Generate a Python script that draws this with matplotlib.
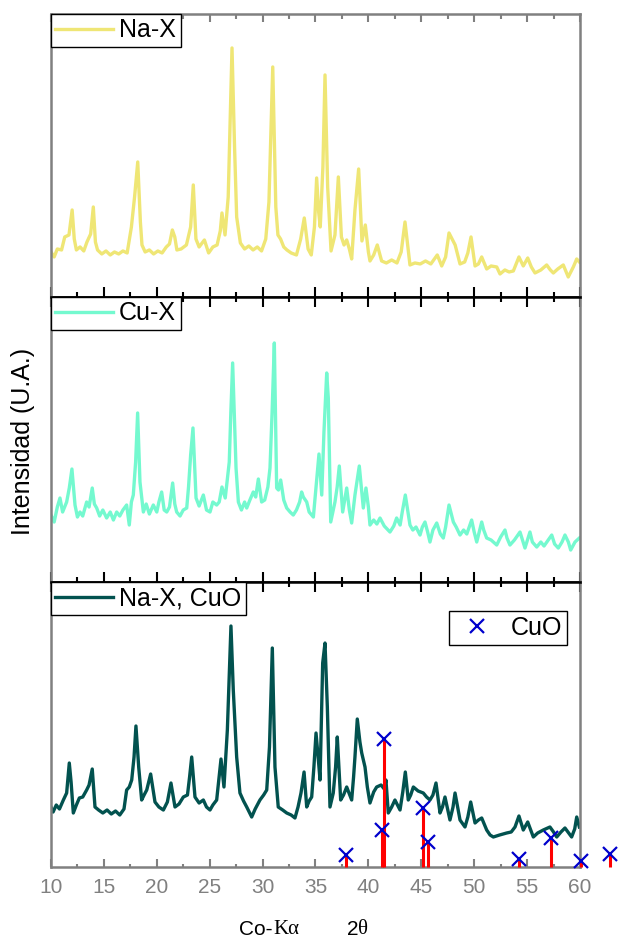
import matplotlib
matplotlib.use('Agg')
import matplotlib.pyplot as plt
from matplotlib.ticker import MultipleLocator

plt.rcParams['font.family'] = ['Liberation Sans', 'DejaVu Sans']

# --- Na-X (top panel), 2theta vs intensity (a.u.)
nax_tt = [10.0, 10.3, 10.6, 11.0, 11.3, 11.7, 12.0, 12.2, 12.4, 12.75, 13.1, 13.4, 13.75, 14.0, 14.2,
          14.4, 14.8, 15.2, 15.6, 16.0, 16.4, 16.8, 17.2, 17.6, 17.9, 18.2, 18.45, 18.6, 18.9, 19.3,
          19.7, 20.1, 20.5, 20.9, 21.2, 21.47, 21.7, 21.9, 22.3, 22.8, 23.2, 23.45, 23.7, 24.0, 24.5,
          24.9, 25.3, 25.7, 26.0, 26.16, 26.45, 26.75, 27.11, 27.35, 27.55, 27.9, 28.3, 28.7, 29.1,
          29.5, 29.9, 30.3, 30.6, 30.96, 31.25, 31.45, 31.7, 32.0, 32.3, 32.7, 33.2, 33.6, 33.94,
          34.3, 34.6, 34.9, 35.11, 35.3, 35.45, 35.7, 35.9, 36.15, 36.47, 36.84, 37.16, 37.45, 37.7,
          37.95, 38.2, 38.42, 38.73, 39.08, 39.39, 39.71, 40.0, 40.15, 40.5, 40.84, 41.25, 41.7,
          42.2, 42.7, 43.1, 43.46, 43.93, 44.4, 44.9, 45.4, 45.9, 46.51, 46.93, 47.3, 47.62, 47.96,
          48.2, 48.66, 49.1, 49.4, 49.7, 50.08, 50.4, 50.71, 51.18, 51.6, 52.13, 52.44, 52.9, 53.3,
          53.7, 54.23, 54.64, 55.06, 55.4, 55.75, 56.3, 56.85, 57.2, 57.48, 57.9, 58.42, 58.89,
          59.37, 59.69, 59.94]
nax_int = [45, 40, 48, 47, 60, 62, 87, 58, 47, 50, 46, 55, 63, 90, 55,
           47, 43, 46, 42, 45, 43, 46, 44, 70, 100, 135, 75, 52, 45, 47,
           43, 46, 44, 50, 53, 67, 60, 47, 48, 52, 70, 112, 58, 50, 57,
           44, 50, 52, 66, 84, 62, 100, 249, 150, 80, 54, 48, 51, 47,
           50, 46, 58, 95, 230, 90, 62, 58, 50, 47, 44, 42, 58, 79,
           48, 42, 70, 119, 85, 70, 130, 222, 110, 46, 62, 120, 60, 52,
           57, 48, 38, 87, 128, 56, 72, 45, 36, 42, 52, 36, 34,
           37, 34, 45, 75, 32, 34, 33, 36, 33, 42, 31, 40, 64, 57,
           52, 33, 35, 44, 60, 31, 33, 40, 28, 31, 30, 23, 27, 25,
           26, 40, 31, 39, 30, 24, 27, 32, 27, 24, 28, 32, 20,
           30, 38, 35]

# --- Cu-X (middle panel)
cux_tt = [10.0, 10.3, 10.6, 10.85, 11.1, 11.48, 11.73, 11.98, 12.27, 12.5, 12.74, 13.0, 13.37, 13.6,
          13.9, 14.1, 14.32, 14.6, 14.9, 15.26, 15.6, 15.9, 16.21, 16.5, 16.8, 17.15, 17.4, 17.6,
          17.78, 18.0, 18.19, 18.41, 18.73, 19.0, 19.3, 19.67, 20.0, 20.2, 20.46, 20.7, 20.94, 21.2,
          21.5, 21.7, 21.88, 22.2, 22.5, 22.83, 23.0, 23.2, 23.42, 23.71, 24.0, 24.4, 24.7, 25.03,
          25.3, 25.66, 25.9, 26.16, 26.47, 26.85, 27.0, 27.17, 27.35, 27.49, 27.71, 28.0, 28.3, 28.5,
          28.8, 29.12, 29.35, 29.6, 29.91, 30.2, 30.5, 30.7, 30.9, 31.11, 31.25, 31.33, 31.5, 31.71,
          32.0, 32.28, 32.6, 32.9, 33.2, 33.5, 33.69, 33.85, 34.17, 34.4, 34.8, 35.05, 35.33, 35.59,
          35.8, 36.06, 36.21, 36.44, 36.84, 37.05, 37.25, 37.57, 37.95, 38.2, 38.42, 38.73, 39.14,
          39.52, 39.77, 40.0, 40.15, 40.5, 40.8, 41.1, 41.5, 42.04, 42.4, 42.67, 43.0, 43.2, 43.49,
          43.93, 44.2, 44.5, 44.88, 45.1, 45.35, 45.6, 45.82, 46.1, 46.46, 46.8, 47.08, 47.3, 47.62,
          48.03, 48.3, 48.66, 49.0, 49.3, 49.76, 50.0, 50.24, 50.71, 50.9, 51.18, 51.6, 52.13, 52.5,
          52.91, 53.1, 53.38, 53.8, 54.33, 54.8, 55.27, 55.5, 55.91, 56.3, 56.6, 57.0, 57.33, 57.6,
          57.95, 58.3, 58.58, 58.9, 59.12, 59.53, 59.94]
cux_int = [67, 60, 75, 84, 70, 80, 94, 113, 77, 65, 70, 66, 80, 75,
           94, 78, 74, 66, 72, 64, 70, 62, 70, 66, 72, 77, 57, 80,
           87, 120, 169, 100, 70, 78, 68, 77, 70, 80, 90, 72, 70, 75,
           99, 78, 70, 66, 72, 74, 95, 127, 154, 84, 76, 87, 72, 70,
           80, 77, 80, 95, 84, 120, 170, 219, 160, 114, 80, 72, 80, 74,
           82, 90, 85, 103, 80, 82, 95, 114, 170, 239, 150, 94, 92, 102,
           82, 74, 70, 67, 72, 80, 90, 85, 80, 70, 65, 95, 128, 87,
           150, 209, 184, 60, 80, 95, 116, 70, 94, 72, 59, 87, 116,
           74, 94, 75, 57, 62, 58, 64, 56, 50, 56, 64, 57, 70, 87,
           57, 52, 55, 47, 55, 60, 50, 40, 52, 59, 48, 44, 55, 77,
           60, 55, 47, 52, 48, 62, 50, 40, 60, 52, 44, 42, 37, 45,
           52, 44, 37, 42, 50, 34, 50, 40, 35, 40, 36, 42, 47, 38,
           34, 40, 47, 40, 32, 40, 44]

# --- Na-X, CuO (bottom panel)
nacuo_tt = [10.0, 10.2, 10.5, 10.8, 11.17, 11.48, 11.73, 11.9, 12.11, 12.4, 12.68, 13.0, 13.37, 13.6,
            13.9, 14.16, 14.5, 14.9, 15.3, 15.7, 16.1, 16.5, 16.9, 17.15, 17.4, 17.63, 17.85, 18.03,
            18.29, 18.57, 18.8, 19.05, 19.42, 19.83, 20.2, 20.62, 21.0, 21.34, 21.72, 22.1, 22.51,
            22.9, 23.1, 23.3, 23.61, 24.0, 24.4, 24.7, 25.03, 25.3, 25.66, 26.07, 26.35, 26.67, 27.01,
            27.23, 27.55, 27.86, 28.2, 28.5, 28.97, 29.3, 29.75, 30.1, 30.39, 30.65, 30.92, 31.17,
            31.48, 31.9, 32.28, 32.7, 33.06, 33.35, 33.63, 33.92, 34.17, 34.4, 34.64, 34.85, 35.05,
            35.25, 35.43, 35.68, 35.9, 36.12, 36.37, 36.68, 36.9, 37.06, 37.38, 37.65, 37.95, 38.42,
            38.6, 38.73, 38.95, 39.2, 39.37, 39.68, 39.9, 40.15, 40.5, 40.78, 41.2, 41.5, 41.66, 41.88,
            42.2, 42.51, 42.99, 43.25, 43.49, 43.77, 44.0, 44.25, 44.7, 45.19, 45.5, 45.82, 46.1,
            46.39, 46.77, 47.0, 47.24, 47.71, 48.0, 48.19, 48.66, 49.13, 49.4, 49.67, 50.08, 50.4,
            50.71, 51.18, 51.5, 51.81, 52.4, 53.07, 53.5, 53.86, 54.23, 54.64, 55.06, 55.59, 56.0,
            56.53, 57.16, 57.5, 57.8, 58.2, 58.58, 59.21, 59.5, 59.69, 59.94]
nacuo_int = [60, 55, 62, 58, 67, 74, 104, 85, 54, 62, 69, 70, 77, 82,
             98, 60, 57, 54, 57, 53, 56, 52, 58, 77, 80, 87, 110, 141,
             100, 67, 72, 77, 93, 65, 60, 57, 65, 84, 60, 63, 70,
             72, 90, 110, 70, 64, 67, 60, 57, 62, 67, 108, 80, 137, 241,
             177, 110, 74, 66, 60, 50, 58, 67, 72, 77, 120, 219, 100,
             60, 57, 54, 52, 49, 60, 74, 95, 60, 66, 70, 100, 134,
             110, 87, 204, 224, 160, 60, 74, 100, 130, 67, 72, 80, 67,
             90, 110, 148, 125, 114, 100, 80, 64, 75, 80, 82, 78, 87, 54,
             60, 67, 57, 75, 95, 67, 72, 80, 76, 74, 70, 67, 72,
             84, 54, 60, 70, 47, 60, 74, 47, 40, 50, 65, 44, 47,
             49, 37, 32, 30, 32, 34, 35, 40, 51, 37, 45, 30, 34,
             37, 40, 35, 30, 35, 39, 30, 38, 50, 40]

# --- CuO reference lines
cuo_tt = [37.85, 41.3, 41.5, 45.2, 45.6, 54.2, 57.3, 60.1, 62.8]
cuo_int = [12, 37, 128, 59, 25, 8, 29, 6, 13]

GRAY = '#808080'
FS = 18

fig = plt.figure(figsize=(6.18, 9.38), dpi=100)
left, width = 0.0825, 0.856
ax1 = fig.add_axes([left, 0.6834, width, 0.3017])
ax2 = fig.add_axes([left, 0.3795, width, 0.3039])
ax3 = fig.add_axes([left, 0.0757, width, 0.3038])

ax1.plot(nax_tt, nax_int, color='#efe675', lw=2.4, label='Na-X')
ax2.plot(cux_tt, cux_int, color='#74f9cf', lw=2.4, label='Cu-X')
ax3.plot(nacuo_tt, nacuo_int, color='#02524f', lw=2.4, label='Na-X, CuO')

ax3.vlines(cuo_tt, 0, cuo_int, color='red', lw=2.2, clip_on=False, zorder=3)
cuo_marks, = ax3.plot(cuo_tt, cuo_int, ls='none', marker='x', color='#0000cc', ms=10, mew=1.6,
                      clip_on=False, zorder=4, label='CuO')

panels = [ax1, ax2, ax3]
for i, ax in enumerate(panels):
    ax.set_xlim(10, 60)
    ax.set_ylim(0, 285 if i else 283)
    ax.set_yticks([])
    ax.xaxis.set_major_locator(MultipleLocator(5))
    ax.xaxis.set_minor_locator(MultipleLocator(2.5))
    for s in ax.spines.values():
        s.set_linewidth(1.8)
        s.set_color(GRAY)
    handles = [ax.get_lines()[0]]
    leg = ax.legend(handles=handles, loc='upper left', borderaxespad=0, fontsize=FS,
                    fancybox=False, edgecolor='black', handlelength=2.3, handletextpad=0.25,
                    borderpad=0.18, framealpha=1)
    leg.get_frame().set_linewidth(1.0)

# inner boundaries: black spines and ticks
ax1.spines['bottom'].set_color('black')
ax2.spines['top'].set_color('black')
ax2.spines['bottom'].set_color('black')
ax3.spines['top'].set_color('black')

tick_kw = dict(direction='in', width=1.5)
ax1.tick_params(axis='x', which='both', bottom=True, top=False, labelbottom=False, color='black', **tick_kw)
ax2.tick_params(axis='x', which='both', bottom=True, top=True, labelbottom=False, color='black', **tick_kw)
ax3.tick_params(axis='x', which='both', bottom=True, top=True, labelbottom=True, color='black', **tick_kw)
for ax in panels:
    ax.tick_params(axis='x', which='major', length=7)
    ax.tick_params(axis='x', which='minor', length=3.5)

# outer edges: gray ticks
sec = ax1.secondary_xaxis('top')
sec.xaxis.set_major_locator(MultipleLocator(5))
sec.xaxis.set_minor_locator(MultipleLocator(2.5))
sec.tick_params(axis='x', which='both', direction='in', color=GRAY, width=1.5, labeltop=False)
sec.tick_params(axis='x', which='major', length=6)
sec.tick_params(axis='x', which='minor', length=3.5)
sec.spines['top'].set_visible(False)

ax3.tick_params(axis='x', which='both', top=False)
sec3 = ax3.secondary_xaxis('top')
sec3.xaxis.set_major_locator(MultipleLocator(5))
sec3.xaxis.set_minor_locator(MultipleLocator(2.5))
sec3.tick_params(axis='x', which='both', direction='in', color='black', width=1.5, labeltop=False)
sec3.tick_params(axis='x', which='major', length=7)
sec3.tick_params(axis='x', which='minor', length=3.5)
sec3.spines['top'].set_visible(False)

ax3.tick_params(axis='x', which='both', color=GRAY, labelcolor=GRAY, labelsize=15, pad=8)
ax3.tick_params(axis='x', which='major', length=6)
ax3.tick_params(axis='x', which='minor', length=2.5)

# CuO legend
leg2 = ax3.legend(handles=[cuo_marks], loc='upper right', bbox_to_anchor=(0.975, 0.898),
                  borderaxespad=0, fontsize=FS, fancybox=False, edgecolor='black',
                  handlelength=1.85, handletextpad=0.4, borderpad=0.2, framealpha=1)
leg2.get_frame().set_linewidth(1.0)
leg3 = ax3.legend(handles=[ax3.get_lines()[0]], loc='upper left', borderaxespad=0, fontsize=FS,
                  fancybox=False, edgecolor='black', handlelength=2.3, handletextpad=0.25,
                  borderpad=0.18, framealpha=1)
leg3.get_frame().set_linewidth(1.0)
ax3.add_artist(leg2)

# axis labels
fig.text(23 / 618, 1 - 441 / 938, 'Intensidad (U.A.)', rotation=90, fontsize=FS,
         ha='center', va='center')
yl = 1 - 929 / 938
fig.text(273 / 618, yl, 'Co-', fontsize=15, ha='right', va='center')
fig.text(273 / 618, yl, 'Kα', fontsize=15, ha='left', va='center', family='Liberation Serif')
fig.text(358 / 618, yl, '2', fontsize=15, ha='right', va='center')
fig.text(358 / 618, yl, 'θ', fontsize=15, ha='left', va='center', family='Liberation Serif')

fig.savefig('out.png', dpi=100)
